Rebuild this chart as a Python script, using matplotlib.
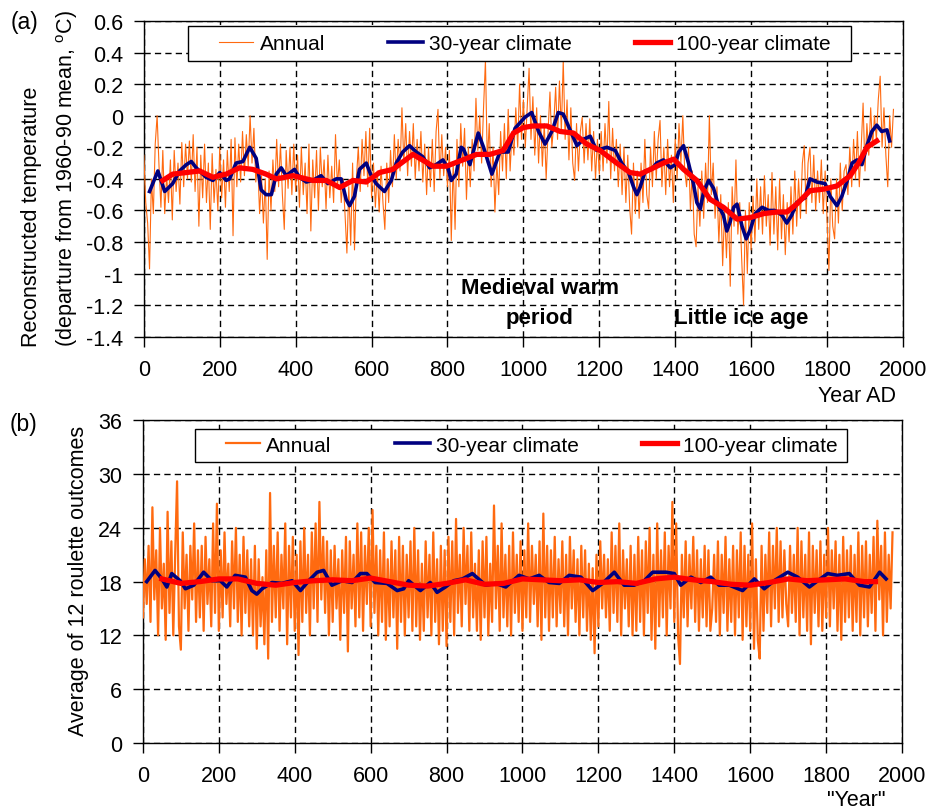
"""
plot.py
Reconstructed temperature vs. roulette "climate": annual values with
30-year and 100-year running means, two stacked panels.
"""
import matplotlib
matplotlib.use("Agg")
import matplotlib.pyplot as plt
from matplotlib.patches import Rectangle
import numpy as np

# annual values every 5 years, one row per century (0..1975)
temp_annual = [
    -0.25, -0.55, -0.68, -0.97, -0.40, -0.62, -0.18, 0.00, -0.32, -0.58, -0.22, -0.62, -0.38, -0.55, -0.28, -0.66, -0.22, -0.48, -0.30, -0.56,
    -0.17, -0.45, -0.18, -0.40, -0.16, -0.42, -0.12, -0.48, -0.20, -0.70, -0.25, -0.52, -0.18, -0.55, -0.30, -0.72, -0.24, -0.55, -0.34, -0.60,
    -0.20, -0.52, -0.28, -0.58, -0.22, -0.48, -0.15, -0.76, -0.14, -0.45, -0.18, -0.42, -0.10, -0.38, -0.12, -0.32, 0.00, -0.30, -0.08, -0.42,
    -0.30, -0.62, -0.38, -0.68, -0.40, -0.91, -0.35, -0.60, -0.28, -0.48, -0.15, -0.45, -0.18, -0.50, -0.72, -0.22, -0.46, -0.20, -0.50, -0.18,
    -0.48, -0.25, -0.58, -0.20, -0.50, -0.30, -0.62, -0.18, -0.73, -0.28, -0.52, -0.22, -0.60, -0.20, -0.45, -0.28, -0.59, -0.25, -0.52, -0.32,
    -0.55, -0.12, -0.45, -0.28, -0.55, -0.40, -0.62, -0.87, -0.45, -0.82, -0.30, -0.85, -0.40, -0.20, -0.48, -0.15, -0.38, -0.10, -0.45, -0.08,
    -0.52, -0.30, -0.58, -0.35, -0.61, -0.32, -0.55, -0.72, -0.30, -0.55, -0.22, -0.45, -0.12, -0.40, -0.15, -0.35, 0.05, -0.30, -0.05, -0.38,
    -0.10, -0.32, -0.05, -0.40, -0.15, -0.35, -0.10, -0.42, -0.18, -0.50, -0.20, -0.45, -0.15, -0.48, -0.10, 0.04, -0.40, -0.12, -0.38, -0.20,
    -0.45, -0.22, -0.79, -0.30, -0.72, -0.15, -0.45, -0.05, -0.32, -0.08, -0.53, -0.20, -0.45, -0.15, -0.35, 0.11, -0.22, 0.00, -0.30, 0.05,
    0.35, -0.30, -0.05, -0.45, -0.20, -0.61, -0.30, -0.50, -0.10, -0.35, -0.05, -0.40, 0.04, -0.35, -0.10, -0.25, 0.05, -0.20, 0.20, -0.15,
    0.10, -0.20, 0.05, 0.30, -0.15, 0.12, -0.25, 0.05, -0.30, 0.00, -0.32, -0.05, -0.40, -0.10, 0.15, -0.20, -0.05, 0.18, -0.15, 0.22,
    -0.10, 0.35, -0.15, 0.10, -0.28, 0.05, -0.30, -0.41, -0.05, -0.35, -0.10, -0.01, -0.30, -0.05, -0.28, -0.02, -0.35, -0.10, -0.40, -0.15,
    -0.37, -0.10, -0.35, -0.05, -0.30, 0.09, -0.40, -0.08, -0.35, -0.15, -0.45, -0.18, -0.50, -0.20, -0.55, -0.25, -0.58, -0.75, -0.30, -0.62,
    -0.35, -0.65, -0.30, -0.55, -0.15, -0.50, -0.59, -0.20, -0.45, -0.10, -0.40, -0.15, -0.03, -0.45, -0.20, -0.50, -0.15, -0.45, -0.25, -0.55,
    -0.15, -0.40, -0.05, -0.30, 0.00, -0.35, -0.45, -0.20, -0.60, -0.35, -0.75, -0.83, -0.45, -0.70, -0.35, -0.65, -0.30, -0.55, 0.00, -0.50,
    -0.30, -0.65, -0.45, -0.80, -0.50, -0.95, -0.60, -0.90, -0.55, -1.08, -0.45, -0.70, -0.28, -0.75, -0.55, -0.90, -1.20, -0.60, -1.00, -0.55,
    -0.85, -0.51, -0.80, -0.40, -0.72, -0.45, -0.75, -0.38, -0.70, -0.50, -0.82, -0.36, -0.75, -0.45, -0.85, -0.40, -0.78, -0.50, -0.88, -0.55,
    -0.80, -0.45, -0.75, -0.35, -0.70, -0.40, -0.65, -0.30, -0.19, -0.62, -0.30, -0.20, -0.55, -0.25, -0.60, -0.35, -0.55, -0.28, -0.62, -0.35,
    -0.65, -0.98, -0.40, -0.70, -0.78, -0.40, -0.68, -0.30, -0.60, -0.35, -0.31, -0.50, -0.20, -0.45, -0.15, -0.40, -0.10, -0.45, -0.20, 0.08,
    -0.35, -0.05, -0.25, 0.05, -0.20, 0.00, -0.15, 0.10, 0.25, -0.20, 0.05, -0.25, -0.45, 0.00, -0.20, 0.04,
]

temp_30_years = [15, 37, 55, 76, 94, 112, 125, 138, 164, 182, 200, 217, 226, 243, 261, 279, 296, 309, 322, 336,
                 349, 362, 375, 397, 410, 428, 445, 467, 485, 507, 520, 533, 542, 555, 568, 586, 599, 612, 634, 652,
                 665, 682, 700, 718, 735, 753, 770, 788, 801, 810, 823, 836, 842, 859, 881, 895, 917, 938, 960, 978,
                 1004, 1022, 1040, 1057, 1075, 1092, 1105, 1123, 1141, 1158, 1176, 1193, 1220, 1242, 1259, 1277, 1290, 1299, 1308, 1321,
                 1338, 1351, 1369, 1387, 1400, 1409, 1422, 1435, 1448, 1457, 1466, 1475, 1488, 1501, 1514, 1527, 1536, 1545, 1554, 1563,
                 1576, 1587, 1598, 1611, 1629, 1646, 1663, 1681, 1694, 1707, 1720, 1742, 1755, 1773, 1795, 1808, 1826, 1839, 1852, 1866,
                 1879, 1892, 1905, 1918, 1931, 1944, 1958, 1965]
temp_30 = [-0.48, -0.35, -0.48, -0.43, -0.35, -0.31, -0.29, -0.33, -0.39, -0.41, -0.36, -0.41, -0.40, -0.30, -0.29, -0.20, -0.27, -0.47, -0.50, -0.50,
           -0.37, -0.33, -0.38, -0.34, -0.39, -0.42, -0.41, -0.38, -0.43, -0.40, -0.40, -0.53, -0.57, -0.51, -0.34, -0.30, -0.38, -0.43, -0.48, -0.41,
           -0.30, -0.23, -0.19, -0.23, -0.26, -0.33, -0.31, -0.28, -0.33, -0.41, -0.37, -0.20, -0.21, -0.31, -0.11, -0.20, -0.37, -0.23, -0.23, -0.08,
           -0.01, 0.02, -0.10, -0.18, -0.10, 0.02, 0.01, -0.09, -0.19, -0.15, -0.13, -0.22, -0.20, -0.22, -0.30, -0.36, -0.45, -0.50, -0.45, -0.35,
           -0.34, -0.30, -0.28, -0.33, -0.31, -0.23, -0.19, -0.30, -0.43, -0.55, -0.59, -0.48, -0.41, -0.46, -0.57, -0.63, -0.73, -0.67, -0.58, -0.56,
           -0.70, -0.78, -0.72, -0.62, -0.58, -0.60, -0.60, -0.63, -0.68, -0.63, -0.55, -0.52, -0.40, -0.42, -0.43, -0.51, -0.57, -0.51, -0.42, -0.30,
           -0.28, -0.31, -0.19, -0.10, -0.06, -0.10, -0.09, -0.16]

temp_100_years = [50, 76, 112, 147, 182, 217, 252, 287, 322, 349, 393, 445, 481, 516, 551, 586, 621, 656, 709, 762,
                  797, 840, 877, 912, 947, 974, 1000, 1026, 1062, 1097, 1132, 1167, 1202, 1246, 1281, 1308, 1343, 1369, 1396, 1422,
                  1457, 1492, 1527, 1563, 1598, 1633, 1668, 1694, 1720, 1755, 1791, 1826, 1861, 1883, 1905, 1931]
temp_100 = [-0.41, -0.37, -0.36, -0.35, -0.39, -0.37, -0.33, -0.34, -0.37, -0.40, -0.38, -0.41, -0.41, -0.455, -0.41, -0.42, -0.36, -0.34, -0.245, -0.32,
            -0.32, -0.28, -0.245, -0.245, -0.22, -0.11, -0.075, -0.065, -0.065, -0.10, -0.11, -0.18, -0.22, -0.30, -0.36, -0.37, -0.33, -0.30, -0.275, -0.34,
            -0.41, -0.53, -0.58, -0.655, -0.645, -0.62, -0.61, -0.61, -0.56, -0.475, -0.465, -0.445, -0.38, -0.30, -0.20, -0.16]

roulette_annual = [
    14.0, 20.5, 15.5, 22.0, 13.5, 26.3, 16.0, 21.5, 12.0, 24.0, 15.0, 20.0, 11.5, 25.8, 14.5, 22.5, 12.0, 21.0, 29.2, 13.0,
    10.4, 23.5, 15.0, 21.0, 12.5, 22.0, 16.0, 24.5, 13.5, 21.5, 14.0, 22.0, 12.5, 23.0, 15.5, 20.5, 13.0, 24.5, 14.5, 26.7,
    12.5, 21.5, 14.0, 23.5, 15.5, 20.0, 13.0, 22.5, 15.0, 24.0, 13.5, 21.0, 12.0, 23.0, 14.5, 21.5, 13.0, 20.5, 12.0, 22.0,
    10.5, 20.5, 13.0, 18.5, 11.0, 21.5, 9.4, 27.9, 13.5, 22.0, 14.0, 23.5, 12.5, 21.0, 15.0, 24.5, 11.0, 22.0, 14.0, 23.0,
    12.5, 21.0, 9.8, 22.5, 13.5, 24.0, 14.5, 21.0, 12.0, 23.5, 15.0, 24.5, 13.5, 26.9, 16.0, 23.0, 14.5, 22.5, 12.0, 21.5,
    13.5, 22.0, 15.0, 20.5, 11.5, 21.5, 14.5, 23.0, 10.2, 22.5, 15.0, 21.0, 13.0, 24.5, 14.0, 23.5, 12.5, 22.0, 15.5, 24.0,
    13.0, 26.0, 14.5, 22.0, 12.0, 21.5, 13.5, 23.5, 11.5, 20.5, 13.0, 22.5, 14.0, 21.5, 10.5, 23.0, 13.5, 22.0, 12.0, 21.0,
    14.0, 22.5, 12.5, 24.0, 13.0, 21.5, 11.5, 20.0, 12.5, 22.5, 14.0, 21.0, 12.0, 23.5, 13.5, 20.5, 11.0, 22.0, 12.5, 21.5,
    10.8, 23.0, 13.5, 22.5, 12.0, 25.0, 14.5, 21.0, 13.0, 24.0, 15.5, 22.0, 12.5, 23.5, 14.0, 20.0, 12.5, 21.5, 11.5, 22.5,
    14.0, 23.0, 12.0, 20.0, 13.5, 26.5, 15.0, 22.0, 12.5, 24.5, 14.0, 21.0, 13.0, 22.0, 12.0, 23.5, 14.5, 21.0, 13.5, 22.5,
    12.5, 21.5, 14.0, 24.5, 13.5, 22.0, 15.5, 21.0, 13.0, 22.5, 11.5, 25.6, 14.0, 22.0, 12.5, 21.5, 14.0, 23.0, 13.0, 20.5,
    14.5, 22.5, 13.0, 21.0, 12.0, 23.0, 15.0, 21.5, 13.5, 20.5, 12.0, 22.0, 14.0, 21.5, 12.5, 20.0, 11.5, 19.5, 10.0, 21.0,
    13.0, 22.5, 15.0, 21.0, 14.0, 20.5, 12.5, 23.5, 14.5, 22.0, 13.5, 24.5, 12.0, 21.5, 15.0, 20.5, 13.0, 22.0, 12.0, 21.0,
    12.5, 23.0, 13.5, 21.5, 12.0, 22.5, 14.5, 24.0, 11.5, 21.0, 10.5, 24.5, 13.0, 21.5, 14.0, 23.5, 12.0, 22.0, 15.0, 26.9,
    13.5, 24.5, 12.0, 8.8, 21.0, 14.0, 22.5, 13.0, 21.0, 15.0, 23.0, 13.5, 21.5, 12.5, 20.5, 14.0, 22.0, 13.0, 21.5, 12.5,
    15.0, 21.0, 13.5, 22.5, 12.0, 21.0, 14.5, 23.0, 12.5, 20.5, 13.5, 22.0, 12.0, 21.5, 14.0, 23.5, 11.5, 22.0, 13.0, 21.0,
    12.5, 24.5, 10.5, 20.5, 11.5, 9.4, 22.0, 12.5, 21.0, 14.5, 23.5, 13.0, 22.0, 15.0, 24.0, 13.5, 22.5, 14.0, 21.5, 15.5,
    13.0, 22.0, 14.5, 21.0, 13.5, 24.0, 12.0, 22.5, 14.0, 21.0, 12.5, 23.5, 11.0, 22.0, 14.5, 21.5, 13.0, 22.5, 12.5, 21.0,
    14.0, 24.0, 13.0, 21.5, 15.0, 22.5, 12.5, 21.0, 11.5, 23.0, 13.5, 21.5, 14.0, 22.0, 12.5, 21.0, 13.5, 23.5, 12.0, 22.0,
    14.0, 22.5, 13.0, 21.0, 14.5, 23.0, 12.5, 24.8, 16.0, 22.0, 12.0, 23.5, 13.5, 21.0, 15.0, 23.5,
]

roulette_30_years = [10, 32, 50, 63, 76, 98, 112, 134, 160, 182, 204, 221, 243, 270, 287, 300, 314, 340, 366, 393,
                     415, 437, 459, 476, 498, 525, 551, 573, 590, 612, 643, 670, 687, 700, 731, 757, 775, 797, 819, 842,
                     868, 903, 930, 956, 991, 1018, 1044, 1070, 1097, 1123, 1154, 1185, 1211, 1242, 1268, 1294, 1321, 1343, 1378, 1400,
                     1417, 1444, 1470, 1496, 1518, 1545, 1580, 1611, 1637, 1663, 1699, 1725, 1756, 1778, 1804, 1830, 1861, 1888, 1914, 1941,
                     1958]
roulette_30 = [18.0, 19.25, 18.3, 17.4, 18.9, 18.1, 17.2, 17.6, 19.05, 18.1, 18.1, 17.4, 18.7, 18.5, 17.0, 16.6, 17.2, 17.9, 17.8, 18.1,
               17.0, 18.1, 19.05, 19.25, 17.6, 18.1, 17.9, 18.9, 18.9, 17.9, 17.8, 17.0, 17.2, 18.1, 17.0, 17.9, 16.8, 17.4, 18.1, 18.3,
               18.9, 17.6, 17.8, 17.4, 18.7, 18.3, 18.7, 17.9, 17.8, 18.7, 18.5, 17.0, 17.8, 19.05, 17.6, 17.6, 18.1, 19.05, 19.05, 18.9,
               17.6, 18.5, 17.9, 18.5, 17.6, 17.6, 17.0, 18.3, 17.2, 18.1, 19.05, 18.5, 17.4, 18.1, 18.9, 18.7, 18.9, 17.6, 17.4, 19.05,
               18.3]

roulette_100_years = [50, 100, 150, 200, 250, 300, 350, 400, 450, 500, 550, 600, 650, 700, 750, 800, 850, 900, 950, 1000,
                      1050, 1100, 1150, 1200, 1250, 1300, 1350, 1400, 1450, 1500, 1550, 1600, 1650, 1700, 1750, 1800, 1850, 1900, 1930]
roulette_100 = [18.3, 17.8, 18.0, 18.3, 18.3, 17.8, 17.6, 17.9, 18.1, 18.2, 18.1, 18.4, 18.0, 17.6, 17.5, 17.8, 18.2, 17.7, 17.8, 18.3,
                18.2, 18.1, 18.2, 17.9, 18.0, 17.8, 18.3, 18.5, 18.2, 18.0, 17.7, 17.6, 17.9, 18.3, 18.1, 18.2, 18.3, 18.0, 18.0]

year_ticks = list(range(0, 2001, 200))
temp_ticks = [-1.4, -1.2, -1.0, -0.8, -0.6, -0.4, -0.2, 0.0, 0.2, 0.4, 0.6]
roulette_ticks = [0, 6, 12, 18, 24, 30, 36]

ORANGE = "#FF6A10"
NAVY = "#000080"
RED = "#FF0000"


def style_axes(ax, yticks):
    """
        Excel-like axes: dashed black grid, outward ticks on left/bottom only
    """
    ax.set_xlim(0, 2000)
    ax.set_ylim(yticks[0], yticks[-1])
    ax.set_xticks(year_ticks)
    ax.set_yticks(yticks)
    ax.set_yticklabels(["%g" % t for t in yticks])
    ax.grid(True, color="black", linestyle=(0, (4.5, 3)), linewidth=1.0)
    ax.tick_params(direction="out", length=7, width=1, labelsize=15.5,
                   top=False, right=False)
    ax.tick_params(axis="x", pad=9)
    ax.tick_params(axis="y", pad=8)
    for sp in ax.spines.values():
        sp.set_linewidth(1.0)
        sp.set_color("black")


def draw_panel(ax, annual, years_30, values_30, years_100, values_100, lw_annual, box, anchor):
    """
        box: legend frame (x0, y0, w, h) in axes fraction
        anchor: left-centre point of the legend entries in axes fraction
    """
    annual_years = np.arange(len(annual)) * 5
    ax.plot(annual_years, annual, color=ORANGE, linewidth=lw_annual, label="Annual", zorder=3)
    ax.plot(years_30, values_30, color=NAVY, linewidth=2.6, label="30-year climate", zorder=4)
    ax.plot(years_100, values_100, color=RED, linewidth=3.8, label="100-year climate", zorder=5)
    # Excel-style legend: wide white box with generous side padding
    ax.add_patch(Rectangle(box[:2], box[2], box[3], transform=ax.transAxes,
                           facecolor="white", edgecolor="black", linewidth=1.0, zorder=9))
    leg = ax.legend(loc="center left", bbox_to_anchor=anchor, ncol=3, fontsize=15.0,
                    frameon=False, handlelength=1.65, handletextpad=0.3, columnspacing=3.05,
                    borderpad=0, borderaxespad=0)
    leg.set_zorder(10)


if __name__ == '__main__':
    plt.rcParams['font.family'] = ['Liberation Sans', 'DejaVu Sans']
    plt.rcParams['axes.unicode_minus'] = False

    fig = plt.figure(figsize=(9.28, 8.12), dpi=100)
    ax_a = fig.add_axes([0.155, 0.584, 0.818, 0.389])
    ax_b = fig.add_axes([0.154, 0.084, 0.818, 0.397])

    draw_panel(ax_a, temp_annual, temp_30_years, temp_30, temp_100_years, temp_100, 0.8,
               (0.058, 0.8724, 0.8735, 0.1108), (0.0988, 0.928))
    style_axes(ax_a, temp_ticks)
    draw_panel(ax_b, roulette_annual, roulette_30_years, roulette_30,
               roulette_100_years, roulette_100, 1.6,
               (0.0685, 0.8719, 0.859, 0.1024), (0.109, 0.923))
    style_axes(ax_b, roulette_ticks)

    # annotations in panel (a)
    ax_a.text(1043, -1.087, "Medieval warm", fontsize=16, fontweight="bold", ha="center", va="center", zorder=6)
    ax_a.text(1043, -1.276, "period", fontsize=16, fontweight="bold", ha="center", va="center", zorder=6)
    ax_a.text(1573, -1.28, "Little ice age", fontsize=16, fontweight="bold", ha="center", va="center", zorder=6)

    # axis titles
    fig.text(857 / 928, 1 - 397 / 812, "Year AD", fontsize=15.5, ha="center", va="center")
    fig.text(856 / 928, 1 - 801 / 812, '"Year"', fontsize=15.5, ha="center", va="center")
    fig.text(32 / 928, 1 - 347 / 812, "Reconstructed temperature",
             fontsize=15.5, rotation=90, ha="center", va="bottom")
    fig.text(67 / 928, 1 - 347 / 812, "(departure from 1960-90 mean, $^\\mathregular{o}$C)",
             fontsize=15.5, rotation=90, ha="center", va="bottom")
    fig.text(79 / 928, 1 - 581 / 812, "Average of 12 roulette outcomes", fontsize=15.5,
             rotation=90, ha="center", va="center")

    # panel letters
    fig.text(25 / 928, 1 - 22 / 812, "(a)", fontsize=16.5, ha="center", va="center")
    fig.text(24 / 928, 1 - 425 / 812, "(b)", fontsize=16.5, ha="center", va="center")

    fig.savefig("out.png", dpi=100)
